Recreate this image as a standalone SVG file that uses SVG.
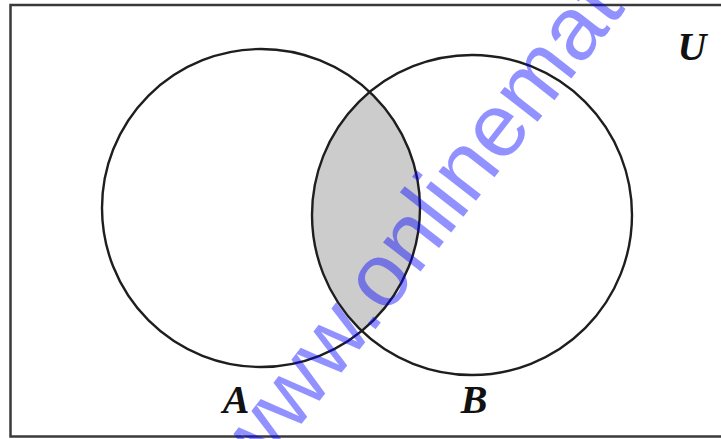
<svg xmlns="http://www.w3.org/2000/svg" width="721" height="439" viewBox="0 0 721 439">
  <style>
    .frame { fill: #ffffff; stroke: #3a3a3a; stroke-width: 2.5; }
    .set { fill: none; stroke: #1e1e1e; stroke-width: 2.4; }
    .shade { fill: #cccccc; stroke: none; }
    .lbl { font-family: "Liberation Serif", "Times New Roman", serif; font-weight: bold; font-style: italic; font-size: 40px; fill: #111111; text-anchor: middle; }
    .wm { font-family: "Liberation Sans", Arial, sans-serif; font-size: 90px; fill: #0000ff; fill-opacity: 0.43; }
  </style>
  <defs>
    <clipPath id="clipA">
      <circle cx="261" cy="208" r="159"/>
    </clipPath>
  </defs>
  <g id="universe">
    <rect class="frame" x="10.5" y="5" width="730" height="431.5"/>
    <text class="lbl" x="692" y="60">U</text>
  </g>
  <g id="intersection">
    <circle class="shade" cx="472" cy="215" r="160" clip-path="url(#clipA)"/>
  </g>
  <g id="setA">
    <circle class="set" cx="261" cy="208" r="159"/>
    <text class="lbl" x="236" y="413">A</text>
  </g>
  <g id="setB">
    <circle class="set" cx="472" cy="215" r="160"/>
    <text class="lbl" x="474" y="413">B</text>
  </g>
  <g id="connectors"/>
  <g id="watermark">
    <text class="wm" transform="translate(253.5 485.5) rotate(-52)" x="0" y="0">www.onlinemat</text>
  </g>
</svg>
